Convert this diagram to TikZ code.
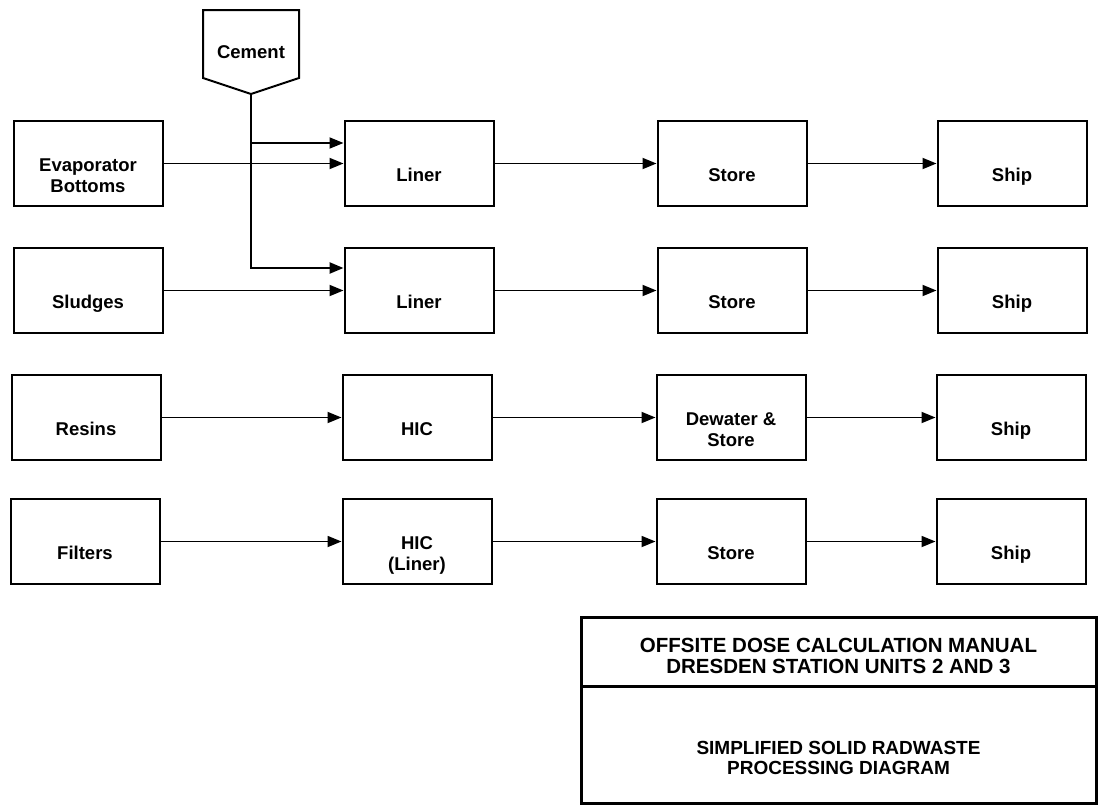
\documentclass[tikz,border=0pt]{standalone}
\usepackage{fontspec}
\setmainfont{Liberation Sans}
\usetikzlibrary{arrows.meta, calc}
\newcommand{\boxtext}[2][-14pt]{\raisebox{#1}[\height][\depth]{\begin{tabular}{@{}c@{}}#2\end{tabular}}}

\begin{document}
\begin{tikzpicture}[x=1pt, y=-1pt, >={Triangle[length=14pt, width=11pt]},
        wbox/.style={draw, line width=2pt, minimum width=149pt, minimum height=85pt, inner sep=0pt,
            font=\fontsize{18.5}{21}\selectfont\bfseries},
        flow/.style={->, line width=1.8pt},
        tbox/.style={draw, line width=3pt, minimum width=515pt, inner sep=0pt, font=\bfseries}]
        \useasboundingbox (0,0) rectangle (1098,806);

        % Waste streams
        \node[wbox] (evap) at (88,163.5) {\boxtext{Evaporator\\Bottoms}};
        \node[wbox] (sludges) at (88,290.5) {\boxtext{Sludges}};
        \node[wbox] (resins) at (86,417.5) {\boxtext{Resins}};
        \node[wbox] (filters) at (85,541.5) {\boxtext{Filters}};

        % Containers
        \node[wbox] (liner1) at (419,163.5) {\boxtext{Liner}};
        \node[wbox] (liner2) at (419,290.5) {\boxtext{Liner}};
        \node[wbox] (hic) at (417,417.5) {\boxtext{HIC}};
        \node[wbox] (hicliner) at (417,541.5) {\boxtext{HIC\\(Liner)}};

        % Storage
        \node[wbox] (store1) at (732,163.5) {\boxtext{Store}};
        \node[wbox] (store2) at (732,290.5) {\boxtext{Store}};
        \node[wbox] (dewater) at (731,417.5) {\boxtext{Dewater \&\\Store}};
        \node[wbox] (store4) at (731,541.5) {\boxtext{Store}};

        % Shipping
        \node[wbox] (ship1) at (1012,163.5) {\boxtext{Ship}};
        \node[wbox] (ship2) at (1012,290.5) {\boxtext{Ship}};
        \node[wbox] (ship3) at (1011,417.5) {\boxtext{Ship}};
        \node[wbox] (ship4) at (1011,541.5) {\boxtext{Ship}};

        % Cement feed
        \draw[line width=2pt] (203,10) -- (299,10) -- (299,78) -- (251,94) -- (203,78) -- cycle;
        \node[font=\fontsize{18.5}{21}\selectfont\bfseries] (cement) at (251,52) {Cement};
        \coordinate (cementtip) at (251,94);
        \coordinate (branch1) at ($(liner1.west)+(0,-20.5)$);
        \coordinate (branch2) at ($(liner2.west)+(0,-22.5)$);
        \draw[flow, line width=2.4pt] (cementtip) |- (branch2);
        \draw[flow] (cementtip |- branch1) -- (branch1);

        % Flow lines
        \draw[flow] (evap.east) -- (liner1.west);
        \draw[flow] (sludges.east) -- (liner2.west);
        \draw[flow] (resins.east) -- (hic.west);
        \draw[flow] (filters.east) -- (hicliner.west);
        \draw[flow] (liner1.east) -- (store1.west);
        \draw[flow] (liner2.east) -- (store2.west);
        \draw[flow] (hic.east) -- (dewater.west);
        \draw[flow] (hicliner.east) -- (store4.west);
        \draw[flow] (store1.east) -- (ship1.west);
        \draw[flow] (store2.east) -- (ship2.west);
        \draw[flow] (dewater.east) -- (ship3.west);
        \draw[flow] (store4.east) -- (ship4.west);

        % Title block
        \node[tbox, minimum height=69pt, font=\fontsize{20.5}{21}\selectfont\bfseries] (titletop) at (838.5,651.5)
            {\boxtext[-7pt]{OFFSITE DOSE CALCULATION MANUAL\\DRESDEN STATION UNITS 2 AND 3}};
        \node[tbox, minimum height=117pt, font=\fontsize{19}{20}\selectfont\bfseries] (titlebot) at (838.5,744.5)
            {\boxtext[-16pt]{SIMPLIFIED SOLID RADWASTE\\PROCESSING DIAGRAM}};
\end{tikzpicture}
\end{document}
